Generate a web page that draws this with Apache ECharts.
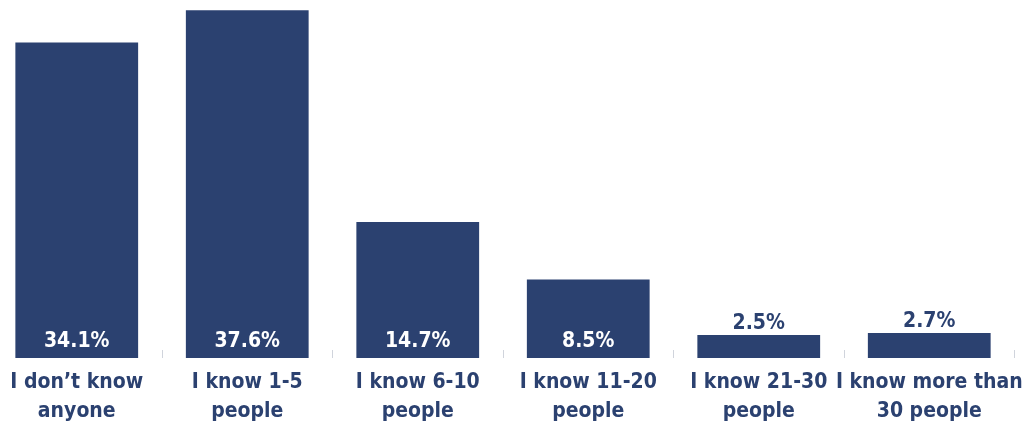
<!DOCTYPE html>
<html>
<head>
<meta charset="utf-8">
<style>
  html, body { margin: 0; padding: 0; background: #ffffff; }
  #chart { width: 1022px; height: 427px; }
</style>
<script src="https://cdn.jsdelivr.net/npm/echarts@6/dist/echarts.min.js"></script>
</head>
<body>
<div id="chart"></div>
<script>
// How many people the respondent knows — share of answers (%)
const categories = [
  "I don\u2019t know\nanyone",
  "I know 1-5\npeople",
  "I know 6-10\npeople",
  "I know 11-20\npeople",
  "I know 21-30\npeople",
  "I know more than\n30 people"
];
const shares = [34.1, 37.6, 14.7, 8.5, 2.5, 2.7];

const NAVY = "#2b4170";
const FONT = "'DejaVu Sans Condensed', 'Liberation Sans Narrow', sans-serif";

// Tall bars carry their label inside at the bottom; short bars above the top
const barData = shares.map(v => {
  const inside = v >= 5;
  return {
    value: v,
    label: inside
      ? { position: "insideBottom", distance: 6, color: "#ffffff" }
      : { position: "top", distance: 1, color: NAVY }
  };
});

const chart = echarts.init(document.getElementById("chart"), null, { renderer: "canvas" });
chart.setOption({
  backgroundColor: "#ffffff",
  animation: false,
  grid: {
    left: -8.5, right: 7.5, top: -12, bottom: 69,
    containLabel: false,
    outerBoundsMode: "none"
  },
  xAxis: {
    type: "category",
    data: categories,
    axisLine: { show: false },
    axisTick: {
      show: true,
      inside: true,
      length: 8,
      lineStyle: { color: "#d0d4dc", width: 1 }
    },
    axisLabel: {
      interval: 0,
      margin: 10,
      color: NAVY,
      fontFamily: FONT,
      fontWeight: "bold",
      fontSize: 21,
      lineHeight: 29,
      hideOverlap: false
    }
  },
  yAxis: {
    type: "value",
    min: 0,
    max: 40,
    show: false,
    splitLine: { show: false }
  },
  series: [{
    type: "bar",
    data: barData,
    barWidth: "72%",
    itemStyle: { color: NAVY },
    label: {
      show: true,
      formatter: p => p.value.toFixed(1) + "%",
      fontFamily: FONT,
      fontWeight: "bold",
      fontSize: 21
    }
  }]
});
</script>
</body>
</html>
